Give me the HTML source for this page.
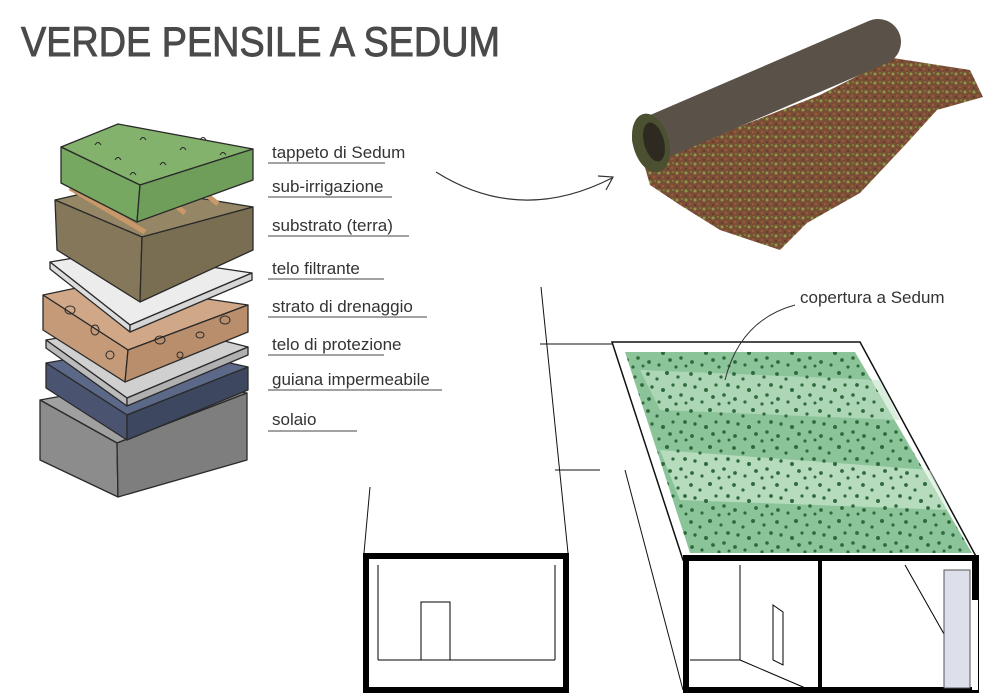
<!DOCTYPE html>
<html><head><meta charset="utf-8"><style>
html,body{margin:0;padding:0;background:#fff;}
svg{display:block;}
.l{font-family:"Liberation Sans",sans-serif;font-size:17px;fill:#333;}
</style></head><body>
<svg width="1000" height="696" viewBox="0 0 1000 696" xmlns="http://www.w3.org/2000/svg">
<defs>
<pattern id="dots" width="43" height="37" patternUnits="userSpaceOnUse">
<g fill="#2f6a3c">
<circle cx="3" cy="4" r="1.9"/><circle cx="12" cy="9" r="1.6"/><circle cx="22" cy="3" r="2"/><circle cx="33" cy="7" r="1.6"/><circle cx="40" cy="15" r="1.9"/>
<circle cx="7" cy="17" r="1.7"/><circle cx="18" cy="20" r="2"/><circle cx="28" cy="15" r="1.6"/><circle cx="36" cy="25" r="1.8"/><circle cx="4" cy="29" r="1.9"/>
<circle cx="14" cy="32" r="1.6"/><circle cx="25" cy="27" r="1.9"/><circle cx="31" cy="34" r="1.6"/><circle cx="41" cy="33" r="1.5"/>
</g>
</pattern>
<pattern id="moss" width="9" height="9" patternUnits="userSpaceOnUse">
<rect width="9" height="9" fill="#7a4e36"/>
<circle cx="2" cy="2" r="1.5" fill="#8a9a48"/><circle cx="6" cy="6" r="1.3" fill="#9a5a3c"/><circle cx="7" cy="1" r="1" fill="#6f8a3a"/><circle cx="2" cy="7" r="1" fill="#5a3a2a"/>
</pattern>
</defs>
<text x="21" y="44.8" transform="scale(1,1.25)" font-family="Liberation Sans,sans-serif" font-size="33" fill="#4a4a4a" stroke="#4a4a4a" stroke-width="0.7" textLength="479" lengthAdjust="spacingAndGlyphs">VERDE PENSILE A SEDUM</text>

<g stroke="#2a2a2a" stroke-width="1.3" stroke-linejoin="round">
<polygon points="40,400 150,380 247,393 117,443" fill="#a0a0a0"/>
<polygon points="40,400 117,443 118,497 40,460" fill="#8c8c8c"/>
<polygon points="117,443 247,393 247,460 118,497" fill="#7e7e7e"/>
<polygon points="46,363 150,345 248,367 127,415" fill="#5c6888"/>
<polygon points="46,363 127,415 127,440 46,388" fill="#4a5470"/>
<polygon points="127,415 248,367 248,390 127,440" fill="#3e4760"/>
<polygon points="46,340 150,322 248,347 127,398" fill="#d0d0d0"/>
<polygon points="46,340 127,398 127,406 46,348" fill="#bbb"/>
<polygon points="127,398 248,347 248,355 127,406" fill="#b0b0b0"/>
<polygon points="43,295 100,283 248,305 128,350" fill="#d0a888"/>
<polygon points="43,295 128,350 125,382 43,330" fill="#c49a78"/>
<polygon points="128,350 248,305 248,332 125,382" fill="#b98e6c"/>
<polygon points="50,262 110,252 252,273 130,325" fill="#ececec"/>
<polygon points="50,262 130,325 130,332 50,269" fill="#ddd"/>
<polygon points="130,325 252,273 252,280 130,332" fill="#d6d6d6"/>
<polygon points="55,200 120,185 253,207 142,237" fill="#958766"/>
<polygon points="55,200 142,237 140,302 57,250" fill="#84775a"/>
<polygon points="142,237 253,207 253,250 140,302" fill="#7a6e52"/>
<line x1="70" y1="188" x2="145" y2="232" stroke="#c99868" stroke-width="5"/>
<line x1="175" y1="205" x2="185" y2="213" stroke="#c99868" stroke-width="5"/>
<line x1="208" y1="196" x2="218" y2="204" stroke="#c99868" stroke-width="5"/>
<polygon points="61,147 118,124 253,149 140,185" fill="#82b26c"/>
<polygon points="61,147 140,185 137,222 61,183" fill="#77a862"/>
<polygon points="140,185 253,149 253,180 137,222" fill="#6f9e5b"/>
</g>
<g fill="none" stroke="#2a2a2a" stroke-width="1">
<path d="M95,145 q3,-5 6,0 M140,140 q3,-5 6,0 M180,150 q3,-5 6,0 M115,160 q3,-5 6,0 M160,165 q3,-5 6,0 M200,140 q3,-5 6,0 M220,155 q3,-5 6,0 M130,175 q3,-5 6,0"/>
<ellipse cx="70" cy="310" rx="5" ry="4"/><ellipse cx="95" cy="330" rx="4" ry="5"/><ellipse cx="160" cy="340" rx="5" ry="4"/><ellipse cx="200" cy="335" rx="4" ry="3"/><ellipse cx="225" cy="320" rx="5" ry="4"/><ellipse cx="110" cy="355" rx="4" ry="4"/><ellipse cx="180" cy="355" rx="3" ry="3"/>
</g>

<g class="l">
<text x="272" y="158">tappeto di Sedum</text>
<text x="272" y="192">sub-irrigazione</text>
<text x="272" y="231">substrato (terra)</text>
<text x="272" y="274">telo filtrante</text>
<text x="272" y="312">strato di drenaggio</text>
<text x="272" y="350">telo di protezione</text>
<text x="272" y="385">guiana impermeabile</text>
<text x="272" y="425">solaio</text>
<text x="800" y="303">copertura a Sedum</text>
</g>
<g stroke="#444" stroke-width="1">
<line x1="268" y1="163" x2="385" y2="163"/><line x1="268" y1="197" x2="392" y2="197"/><line x1="268" y1="236" x2="409" y2="236"/><line x1="268" y1="279" x2="384" y2="279"/><line x1="268" y1="317" x2="427" y2="317"/><line x1="268" y1="355" x2="384" y2="355"/><line x1="268" y1="390" x2="442" y2="390"/><line x1="268" y1="431" x2="357" y2="431"/>
</g>
<path d="M436,172 Q520,225 612,178" fill="none" stroke="#333" stroke-width="1.2"/>
<path d="M598,176 L613,177 L606,190" fill="none" stroke="#333" stroke-width="1.2"/>

<polygon points="640,150 680,150 820,95 893,58 970,70 983,97 937,110 907,143 860,193 807,223 780,250 720,230 680,205 650,185" fill="url(#moss)"/>
<line x1="655" y1="138" x2="878" y2="42" stroke="#5a5148" stroke-width="46" stroke-linecap="round"/>
<ellipse cx="651" cy="143" rx="18" ry="30" fill="#4a5030" transform="rotate(-15 651 143)"/>
<ellipse cx="654" cy="142" rx="10" ry="20" fill="#2e2a22" transform="rotate(-15 654 142)"/>

<g stroke="#111" fill="none">
<line x1="541" y1="287" x2="568" y2="553" stroke-width="1"/>
<line x1="540" y1="344" x2="612" y2="344" stroke-width="1"/>
<line x1="555" y1="470" x2="600" y2="470" stroke-width="1"/>
<line x1="370" y1="487" x2="364" y2="553" stroke-width="1"/>
<line x1="625" y1="470" x2="683" y2="690" stroke-width="1"/>
<polygon points="612,342 860,342 978,560 683,560" stroke-width="1.5" fill="#fff"/>
</g>
<polygon points="625,352 855,352 972,553 690,553" fill="#8cc49a"/>
<polygon points="640,370 880,380 900,420 660,410" fill="#c2e2c8" opacity="0.6"/>
<polygon points="660,450 930,470 950,510 680,500" fill="#d2ecd6" opacity="0.6"/>
<polygon points="625,352 855,352 972,553 690,553" fill="url(#dots)"/>
<path d="M795,305 Q740,320 725,380" fill="none" stroke="#333" stroke-width="1"/>
<g stroke="#000" fill="none">
<rect x="366" y="556" width="200" height="134" stroke-width="6"/>
<rect x="686" y="558" width="290" height="132" stroke-width="6"/>
<line x1="820" y1="558" x2="820" y2="690" stroke-width="4"/>
<g stroke-width="1">
<line x1="378" y1="565" x2="378" y2="660"/><line x1="555" y1="565" x2="555" y2="660"/><line x1="378" y1="660" x2="555" y2="660"/>
<rect x="421" y="602" width="29" height="58"/>
<line x1="690" y1="660" x2="740" y2="660"/><line x1="740" y1="565" x2="740" y2="660"/><line x1="740" y1="660" x2="810" y2="690"/>
<polygon points="773,605 783,612 783,665 773,660"/>
<line x1="905" y1="565" x2="970" y2="680"/>
</g>
</g>
<rect x="944" y="570" width="26" height="118" fill="#dde0ea" stroke="#555" stroke-width="1"/>
<rect x="972" y="556" width="6" height="134" fill="#fff"/>
<line x1="975" y1="556" x2="975" y2="600" stroke="#000" stroke-width="6"/>
</svg>
</body></html>
